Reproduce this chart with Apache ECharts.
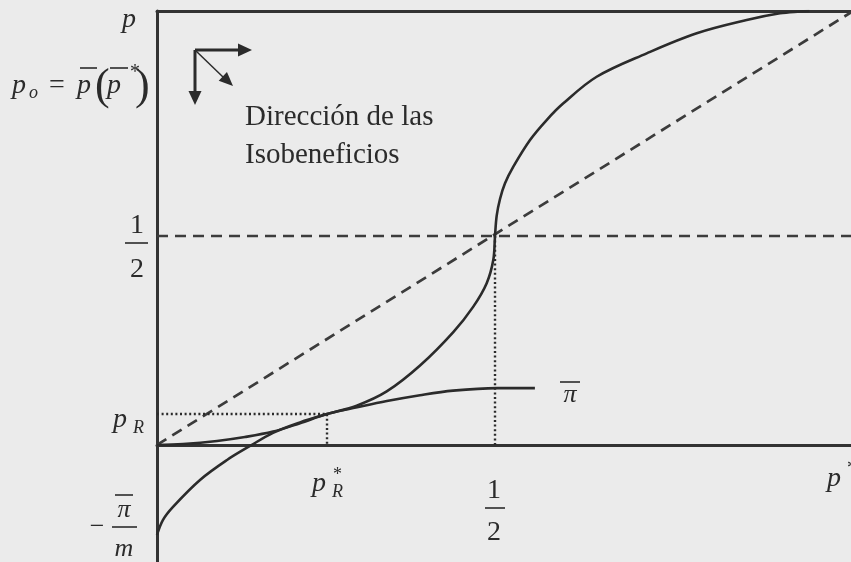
<!DOCTYPE html>
<html><head><meta charset="utf-8">
<script src="https://cdn.jsdelivr.net/npm/echarts@6/dist/echarts.min.js"></script>
<style>html,body{margin:0;padding:0;background:#ebebeb}#chart{width:851px;height:562px}</style>
</head><body><div id="chart"></div><script>
// Axis ranges (p* horizontally, p vertically)
const xRange = [0, 1.0266];
const yRange = [-0.28, 1.0383];
// Key levels marked on the axes
const half = 0.5;
const pR = 0.074;
const pRStar = 0.2515;
const negPiOverM = -0.215;

// Reaction curve p̄(p*)
const reactionX = [0, 0.0089, 0.0237, 0.0636, 0.1036, 0.1376, 0.1716, 0.2115, 0.2515, 0.2954, 0.3398, 0.3891, 0.4383, 0.4679, 0.4877, 0.4975, 0.5, 0.5025, 0.5074, 0.5148, 0.5271, 0.5518, 0.5764, 0.6011, 0.6504, 0.7244, 0.7984, 0.8723, 0.9216, 0.951, 0.965];
const reactionY = [negPiOverM, -0.179, -0.148, -0.0837, -0.0359, -0.0024, 0.029, 0.054, pR, 0.094, 0.128, 0.19, 0.27, 0.331, 0.387, 0.443, half, 0.5486, 0.5885, 0.626, 0.6658, 0.7297, 0.7775, 0.8174, 0.881, 0.937, 0.985, 1.0167, 1.0327, 1.037, 1.0383];

// Isoprofit curve π̄
const isoX = [0, 0.0385, 0.0888, 0.130, 0.1716, 0.2115, 0.2515, 0.296, 0.340, 0.389, 0.438, 0.503, 0.559];
const isoY = [0, 0.0024, 0.0096, 0.019, 0.032, 0.052, pR, 0.09, 0.105, 0.119, 0.13, 0.136, 0.136];

const zip = (xs, ys) => xs.map((x, i) => [x, ys[i]]);

const ink = '#2b2b2b';
const serif = '"Liberation Serif", "DejaVu Serif", serif';

const chart = echarts.init(document.getElementById('chart'));

// text placed by its baseline
function txt(text, x, baseline, size, opts = {}) {
  return {
    type: 'text', z: 100,
    style: {
      text, x, y: baseline - 0.305 * size,
      font: (opts.italic ? 'italic ' : '') + size + 'px ' + serif,
      fill: ink,
      textAlign: opts.align || 'left',
      textVerticalAlign: 'middle'
    }
  };
}
function bar(x1, y1, x2, y2, w) {
  return { type: 'line', z: 100, shape: { x1, y1, x2, y2 }, style: { stroke: ink, lineWidth: w || 1.6 } };
}
function head(tip, dir, len, hw) {
  const [dx, dy] = dir; const n = Math.hypot(dx, dy); const ux = dx / n, uy = dy / n;
  const bx = tip[0] - ux * len, by = tip[1] - uy * len;
  return { type: 'polygon', z: 100, shape: { points: [tip, [bx - uy * hw, by + ux * hw], [bx + uy * hw, by - ux * hw]] }, style: { fill: ink } };
}

const lineStyleSolid = { color: ink, width: 2.6 };
const dashed = { color: '#3c3c3c', width: 2.7, type: [11, 7] };
const dotted = { color: ink, width: 2.4, type: [2, 2.6] };

function seg(data, style, z) {
  return { type: 'line', data, symbol: 'none', silent: true, lineStyle: style, z: z || 2, animation: false };
}

chart.setOption({
  backgroundColor: '#ebebeb',
  animation: false,
  grid: { left: 157, right: 0, top: 11, bottom: 0 },
  xAxis: [
    { type: 'value', min: xRange[0], max: xRange[1],
      axisLine: { onZero: true, lineStyle: { color: '#333', width: 3 } },
      axisTick: { show: false }, axisLabel: { show: false }, splitLine: { show: false } },
    { type: 'value', position: 'top', min: xRange[0], max: xRange[1],
      axisLine: { onZero: false, lineStyle: { color: '#333', width: 3 } },
      axisTick: { show: false }, axisLabel: { show: false }, splitLine: { show: false } }
  ],
  yAxis: { type: 'value', min: yRange[0], max: yRange[1],
    axisLine: { show: true, onZero: false, lineStyle: { color: '#333', width: 3 } },
    axisTick: { show: false }, axisLabel: { show: false }, splitLine: { show: false } },
  series: [
    seg([[0, 0], [xRange[1], 1.035]], dashed),
    seg([[0, half], [xRange[1], half]], dashed),
    seg([[0, pR], [pRStar, pR], [pRStar, 0]], dotted),
    seg([[half, half], [half, 0]], dotted),
    Object.assign(seg(zip(isoX, isoY), lineStyleSolid, 3), { smooth: 0.35 }),
    Object.assign(seg(zip(reactionX, reactionY), lineStyleSolid, 3), { smooth: 0.35 })
  ],
  graphic: [
    // vertical axis title
    txt('p', 122, 28, 28, { italic: true }),
    // p_o = p̄(p̄*)
    txt('p', 12, 94, 28, { italic: true }),
    txt('o', 29, 99, 18, { italic: true }),
    txt('=', 49, 94, 28),
    txt('p', 77, 94, 28, { italic: true }),
    bar(80, 68, 97, 68),
    txt('(', 95, 101, 44),
    txt('p', 107, 94, 28, { italic: true }),
    bar(110, 68, 128, 68),
    txt('*', 130, 79, 20),
    txt(')', 135, 101, 44),
    // direction arrows
    bar(195, 50, 240, 50, 3),
    head([252, 50], [1, 0], 14, 6.5),
    bar(195, 50, 195, 93, 3),
    head([195, 105], [0, 1], 14, 6.5),
    bar(195, 50, 223, 77, 1.5),
    head([233, 86], [37, 35], 14, 6),
    txt('Dirección de las', 245, 126, 29),
    txt('Isobeneficios', 245, 164, 29),
    // 1/2 on the vertical axis
    txt('1', 137, 234, 28, { align: 'center' }),
    bar(125, 243, 148, 243),
    txt('2', 137, 278, 28, { align: 'center' }),
    // p_R
    txt('p', 113, 428, 28, { italic: true }),
    txt('R', 133, 434, 18, { italic: true }),
    // −π̄/m
    txt('−', 97, 535, 26, { align: 'center' }),
    txt('π', 124, 518, 26, { italic: true, align: 'center' }),
    bar(115, 495, 133, 495),
    bar(112, 527, 137, 527),
    txt('m', 124, 557, 26, { italic: true, align: 'center' }),
    // p_R*
    txt('p', 312, 492, 28, { italic: true }),
    txt('R', 332, 498, 18, { italic: true }),
    txt('*', 333, 481, 18),
    // 1/2 on the horizontal axis
    txt('1', 494, 499, 28, { align: 'center' }),
    bar(485, 508, 505, 508),
    txt('2', 494, 541, 28, { align: 'center' }),
    // p*
    txt('p', 827, 487, 28, { italic: true }),
    txt('*', 847, 475, 20),
    // π̄ label
    txt('π', 570, 403, 26, { italic: true, align: 'center' }),
    bar(560, 382, 580, 382)
  ]
});
</script></body></html>
